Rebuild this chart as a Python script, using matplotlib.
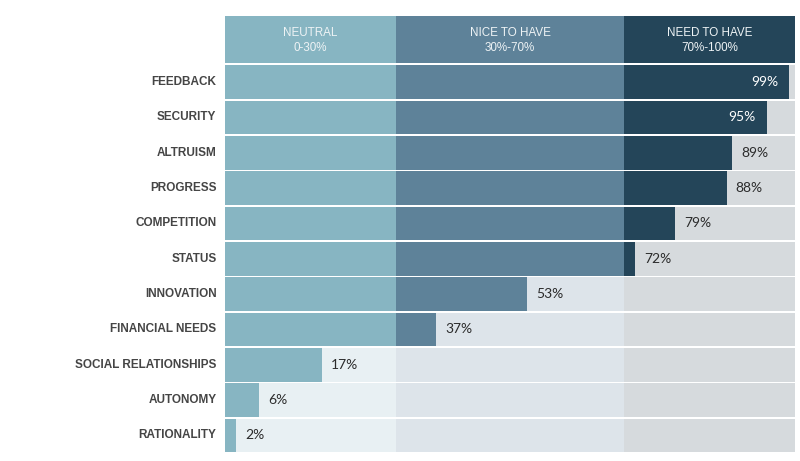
import matplotlib
matplotlib.use("Agg")
import matplotlib.pyplot as plt
from matplotlib.transforms import offset_copy

categories = ["FEEDBACK", "SECURITY", "ALTRUISM", "PROGRESS", "COMPETITION", "STATUS",
              "INNOVATION", "FINANCIAL NEEDS", "SOCIAL RELATIONSHIPS", "AUTONOMY", "RATIONALITY"]
values = [99, 95, 89, 88, 79, 72, 53, 37, 17, 6, 2]

band_names = ["NEUTRAL", "NICE TO HAVE", "NEED TO HAVE"]
band_ranges = ["0-30%", "30%-70%", "70%-100%"]
band_edges = [0, 30, 70, 100]
bar_colors = ["#87b5c2", "#5e8299", "#244559"]
bg_colors = ["#e8f0f3", "#dde4ea", "#d6dadd"]

fig = plt.figure(figsize=(8, 4.61), dpi=100)
ax = fig.add_axes([225 / 800, 1 - 454 / 461, 570 / 800, 438 / 461])
ax.set_xlim(0, 100)
pitch = 35.3
header_top = (16.5 - 65.7) / pitch
header_bot = (63 - 65.7) / pitch
ax.set_ylim(11.0, header_top)
ax.axis("off")

row_h = 0.95
# header
for j in range(3):
    lo, hi = band_edges[j], band_edges[j + 1]
    ax.barh(header_top, hi - lo, left=lo, height=header_bot - header_top,
            align="edge", color=bar_colors[j], linewidth=0)
    ax.text((lo + hi) / 2, (33.5 - 65.7) / pitch, band_names[j],
            ha="center", va="center", color="#eef3f5", fontsize=8.4, family="Liberation Sans")
    ax.text((lo + hi) / 2, (48 - 65.7) / pitch, band_ranges[j],
            ha="center", va="center", color="#eef3f5", fontsize=8.4, family="Liberation Sans")

for i, (cat, v) in enumerate(zip(categories, values)):
    for j in range(3):
        lo, hi = band_edges[j], band_edges[j + 1]
        ax.barh(i, hi - lo, left=lo, height=row_h, align="edge", color=bg_colors[j], linewidth=0)
        seg = min(v, hi) - lo
        if seg > 0:
            ax.barh(i, seg, left=lo, height=row_h, align="edge", color=bar_colors[j], linewidth=0)
    yc = i + row_h / 2
    ax.text(-1.5, yc, cat, ha="right", va="center", fontsize=8.5, fontweight="bold",
            color="#454545", family="Liberation Sans")
    if v >= 95:
        tr = offset_copy(ax.transData, fig=fig, x=-11, y=0, units="dots")
        ax.text(v, yc, f"{v}%", ha="right", va="center", fontsize=10, color="white",
                family="Lato", transform=tr)
    else:
        tr = offset_copy(ax.transData, fig=fig, x=9, y=0, units="dots")
        ax.text(v, yc, f"{v}%", ha="left", va="center", fontsize=10, color="#2b2b2b",
                family="Lato", transform=tr)

fig.savefig("out.png", dpi=100)
